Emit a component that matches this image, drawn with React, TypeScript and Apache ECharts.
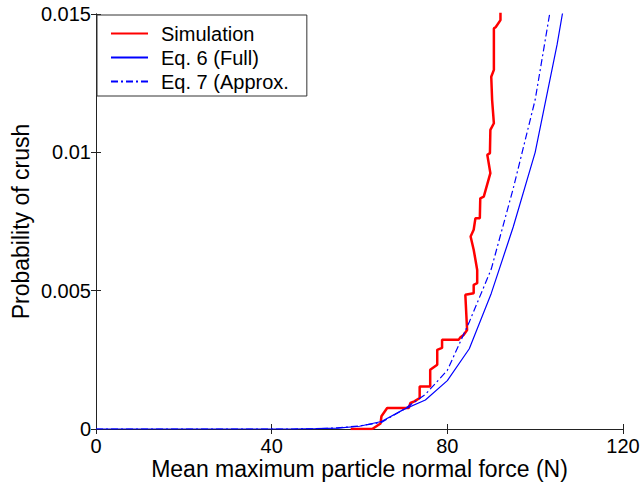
import React, { useEffect, useRef } from "react";
import * as echarts from "echarts";

const xTicks = [0, 40, 80, 120];
const yTickLabels = ["0", "0.005", "0.01", "0.015"];

const simulation: [number, number][] = [
  [58, 0], [62.9, 0], [64.8, 0.0002], [65.0, 0.00046], [66.3, 0.00076], [71.2, 0.00076],
  [71.6, 0.00094], [72.5, 0.001], [73.7, 0.00112], [73.7, 0.00154], [76.1, 0.00154],
  [76.1, 0.00214], [77.7, 0.00232], [77.7, 0.00286], [78.8, 0.00293], [78.8, 0.00323],
  [82.6, 0.00323], [83.0, 0.00332], [83.7, 0.0034], [84.5, 0.00358], [84.1, 0.00485],
  [86.0, 0.00491], [86.0, 0.00521], [86.8, 0.00527], [86.8, 0.00575], [86.4, 0.00612],
  [86.0, 0.00648], [85.3, 0.00696], [86.0, 0.0072], [86.4, 0.00762], [87.4, 0.00762],
  [87.5, 0.00834], [88.3, 0.0084], [89.8, 0.00925], [89.1, 0.00991], [89.7, 0.00997],
  [89.8, 0.01081], [90.6, 0.01105], [90.2, 0.01189], [90.0, 0.01273], [90.6, 0.01298],
  [90.6, 0.01448], [91.0, 0.01452], [92.1, 0.01478], [92.1, 0.0151],
];

const forceSamples = [0, 5, 10, 15, 20, 25, 30, 35, 40, 45, 50, 55, 60, 65, 70, 75, 80, 85, 90, 95, 100, 105, 110];
const eq6Full = [0, 0, 0, 0, 0, 0, 0, 0, 0, 0, 0.00001, 0.00003, 0.0001, 0.00027, 0.0007, 0.00105, 0.00175, 0.0029, 0.0049, 0.0073, 0.01, 0.0139, 0.0185];
const eq7Approx = [0, 0, 0, 0, 0, 0, 0, 0, 0, 0, 0.00001, 0.00004, 0.00011, 0.00024, 0.0007, 0.00125, 0.00212, 0.00387, 0.00578, 0.00869, 0.0119, 0.0166, 0.022];

const FONT = "Liberation Sans, Arial, sans-serif";

export default function App() {
  const ref = useRef<HTMLDivElement>(null);
  useEffect(() => {
    if (!ref.current) return;
    const chart = echarts.init(ref.current, null, { renderer: "svg" });
    const axisLine = { show: true, lineStyle: { color: "#222", width: 1 } };
    const axisTick = { show: true, inside: true, length: 5, lineStyle: { color: "#222" } };
    chart.setOption({
      animation: false,
      backgroundColor: "#fff",
      grid: { left: 96, right: 18, top: 14, bottom: 54, containLabel: false, outerBoundsMode: "none" },
      legend: {
        left: 97,
        top: 15,
        orient: "vertical",
        backgroundColor: "#fff",
        borderColor: "#333",
        borderWidth: 1,
        borderRadius: 0,
        padding: [8, 18, 4, 13],
        itemWidth: 37,
        itemHeight: 14,
        itemGap: 3,
        itemStyle: { opacity: 0 },
        textStyle: { fontFamily: FONT, fontSize: 20, color: "#000", lineHeight: 21, padding: [0, 0, 0, 8] },
        data: ["Simulation", "Eq. 6 (Full)", "Eq. 7 (Approx."],
      },
      xAxis: [
        {
          type: "value",
          min: 0,
          max: 120,
          interval: 40,
          name: "Mean maximum particle normal force (N)",
          nameLocation: "middle",
          nameGap: 28,
          nameMoveOverlap: false,
          nameTextStyle: { fontFamily: FONT, fontSize: 23, color: "#000" },
          axisLine,
          axisTick,
          splitLine: { show: false },
          axisLabel: {
            margin: 7,
            fontFamily: FONT,
            fontSize: 20,
            color: "#000",
            formatter: (v: number) => String(xTicks[Math.round(v / 40)] ?? v),
          },
        },
        {
          type: "value",
          position: "top",
          min: 0,
          max: 120,
          interval: 40,
          axisLine,
          axisTick,
          axisLabel: { show: false },
          splitLine: { show: false },
        },
      ],
      yAxis: [
        {
          type: "value",
          min: 0,
          max: 0.015,
          interval: 0.005,
          name: "Probability of crush",
          nameLocation: "middle",
          nameGap: 64,
          nameMoveOverlap: false,
          nameTextStyle: { fontFamily: FONT, fontSize: 23, color: "#000" },
          axisLine,
          axisTick,
          splitLine: { show: false },
          axisLabel: {
            margin: 5,
            fontFamily: FONT,
            fontSize: 20,
            color: "#000",
            formatter: (v: number) => yTickLabels[Math.round(v / 0.005)] ?? String(v),
          },
        },
        {
          type: "value",
          position: "right",
          min: 0,
          max: 0.015,
          interval: 0.005,
          axisLine,
          axisTick,
          axisLabel: { show: false },
          splitLine: { show: false },
        },
      ],
      series: [
        {
          name: "Simulation",
          type: "line",
          data: simulation,
          symbol: "none",
          lineStyle: { color: "#ff0000", width: 2.5 },
          itemStyle: { color: "#ff0000" },
          z: 2,
        },
        {
          name: "Eq. 6 (Full)",
          type: "line",
          data: forceSamples.map((x, i) => [x, eq6Full[i]]),
          symbol: "none",
          lineStyle: { color: "#0000ff", width: 1.2 },
          itemStyle: { color: "#0000ff" },
          z: 3,
        },
        {
          name: "Eq. 7 (Approx.",
          type: "line",
          data: forceSamples.map((x, i) => [x, eq7Approx[i]]),
          symbol: "none",
          lineStyle: { color: "#0000ff", width: 1.2, type: [7, 3, 2, 3] },
          itemStyle: { color: "#0000ff" },
          z: 3,
        },
      ],
    });
    return () => chart.dispose();
  }, []);
  return (
    <div
      ref={ref}
      style={{ position: "fixed", left: 0, top: 0, width: 641, height: 483, background: "#fff" }}
    />
  );
}
